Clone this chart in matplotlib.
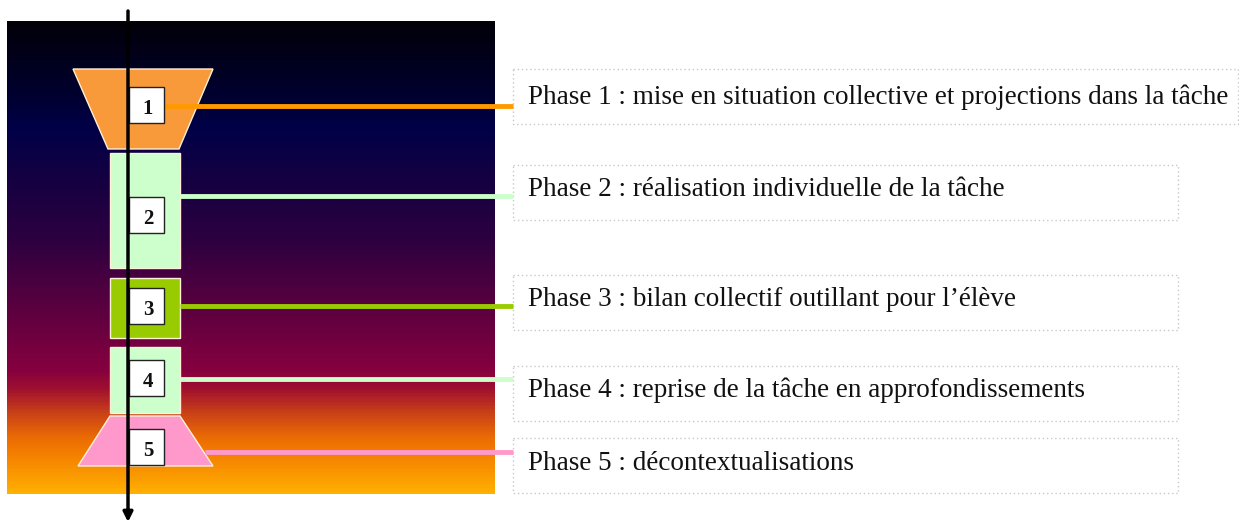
import matplotlib
matplotlib.use("Agg")
import matplotlib.pyplot as plt
import numpy as np
from matplotlib.colors import LinearSegmentedColormap
from matplotlib.patches import Polygon, Rectangle

# phases of the lesson
numbers = ["1", "2", "3", "4", "5"]
labels = [
    "Phase 1 : mise en situation collective et projections dans la tâche",
    "Phase 2 : réalisation individuelle de la tâche",
    "Phase 3 : bilan collectif outillant pour l\u2019élève",
    "Phase 4 : reprise de la tâche en approfondissements",
    "Phase 5 : décontextualisations",
]
shape_colors = ["#f89a3a", "#ccffcc", "#99cc00", "#ccffcc", "#ff99cc"]
line_colors = ["#ff9900", "#ccffcc", "#99cc00", "#ccffcc", "#ff99cc"]

# layout (pixels, y downwards)
shape_top = [69, 153, 278, 347, 416]
shape_bot = [149, 268, 338, 413, 466]
num_top = [87, 197, 288, 360, 429]
line_y = [106, 196, 306, 379, 452]
line_x0 = [164, 180, 180, 180, 205]
box_top = [69, 165, 275, 366, 438]
box_right = [1238, 1178, 1178, 1178, 1178]
text_y = [97, 189, 299, 390, 463]

fig = plt.figure(figsize=(12.39, 5.24), dpi=100)
ax = fig.add_axes([0, 0, 1, 1])
ax.set_xlim(0, 1239)
ax.set_ylim(524, 0)
ax.axis("off")

# background gradient
stops = [(0.0, "#020008"), (0.17, "#000034"), (0.22, "#000048"), (0.36, "#1a0040"),
         (0.46, "#2c0040"), (0.59, "#55003f"), (0.66, "#6c0040"), (0.74, "#86003e"),
         (0.78, "#a0102f"), (0.83, "#c84018"), (0.88, "#ea6a04"), (0.92, "#f58000"),
         (1.0, "#ffb000")]
cmap = LinearSegmentedColormap.from_list("bg", stops)
grad = np.linspace(0, 1, 400).reshape(-1, 1)
ax.imshow(grad, cmap=cmap, aspect="auto", extent=(7, 495, 494, 21), zorder=0)

# shapes
for i in range(5):
    t, b = shape_top[i], shape_bot[i]
    if i == 0:
        pts = [(73, t), (213, t), (179, b), (108, b)]
    elif i == 4:
        pts = [(110, t), (180, t), (213, b), (78, b)]
    else:
        pts = [(110, t), (180, t), (180, b), (110, b)]
    ax.add_patch(Polygon(pts, closed=True, facecolor=shape_colors[i],
                         edgecolor="#fff0d8", lw=1, zorder=2))

# connector lines
for i in range(5):
    ax.plot([line_x0[i], 513], [line_y[i], line_y[i]], color=line_colors[i],
            lw=3.5, solid_capstyle="butt", zorder=2.5)

# number boxes
for i in range(5):
    ax.add_patch(Rectangle((129, num_top[i]), 35, 36, facecolor="white",
                           edgecolor="#222222", lw=1, zorder=3))
    ax.text(148, num_top[i] + 22, numbers[i], ha="center", va="center",
            fontsize=15, fontweight="bold", family="Liberation Serif",
            color="#111111", zorder=4)

# vertical arrow
ax.annotate("", xy=(128, 522), xytext=(128, 11),
            arrowprops=dict(arrowstyle="-|>", lw=2.5, color="black",
                            mutation_scale=14, shrinkA=0, shrinkB=0), zorder=5)

# label boxes
for i in range(5):
    ax.add_patch(Rectangle((513, box_top[i]), box_right[i] - 513, 55,
                           facecolor="white", edgecolor="#c8c8c8", lw=1,
                           linestyle=(0, (1, 2)), zorder=2))
    ax.text(528, text_y[i], labels[i], ha="left", va="center", fontsize=19.5,
            family="Liberation Serif", color="#111111", zorder=3)

fig.savefig("out.png", dpi=100)
